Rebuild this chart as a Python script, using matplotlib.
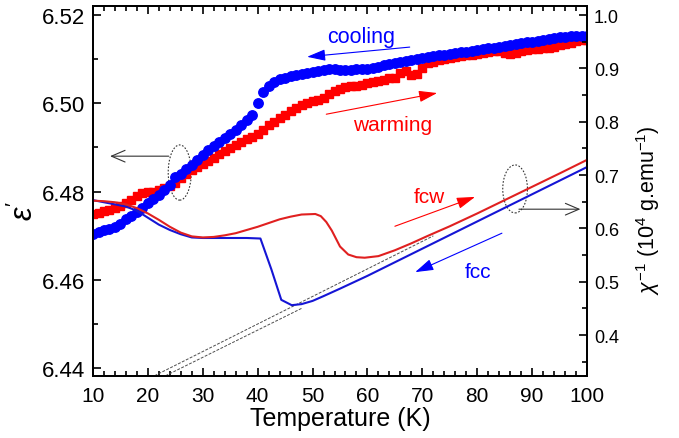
import matplotlib
matplotlib.use("Agg")
import matplotlib.pyplot as plt
from matplotlib.patches import Ellipse
from matplotlib.ticker import MultipleLocator

plt.rcParams['font.family'] = ['Liberation Sans', 'DejaVu Sans']
plt.rcParams['mathtext.fontset'] = 'custom'
plt.rcParams['mathtext.rm'] = 'Liberation Sans'
plt.rcParams['mathtext.it'] = 'Liberation Sans:italic'

# dielectric constant, 1 K steps from 10 to 100 K
T_eps = list(range(10, 101))
eps_cool = [6.4703, 6.4708, 6.4712, 6.4716, 6.4720, 6.4726, 6.4738, 6.4745, 6.4753, 6.4763,
            6.4773, 6.4783, 6.4792, 6.4803, 6.4815, 6.4832, 6.4840, 6.4850, 6.4860, 6.4871,
            6.4882, 6.4893, 6.4903, 6.4912, 6.4921, 6.4930, 6.4940, 6.4950, 6.4961, 6.4973,
            6.5000, 6.5025, 6.5040, 6.5049, 6.5054, 6.5058, 6.5061, 6.5064, 6.5067, 6.5069,
            6.5071, 6.5073, 6.5075, 6.5077, 6.5077, 6.5076, 6.5075, 6.5076, 6.5077, 6.5078,
            6.5078, 6.5080, 6.5083, 6.5086, 6.5089, 6.5092, 6.5094, 6.5096, 6.5098, 6.5100,
            6.5102, 6.5104, 6.5106, 6.5108, 6.5110, 6.5112, 6.5114, 6.5115, 6.5117, 6.5119,
            6.5121, 6.5122, 6.5124, 6.5126, 6.5128, 6.5130, 6.5132, 6.5134, 6.5136, 6.5138,
            6.5139, 6.5141, 6.5143, 6.5145, 6.5147, 6.5149, 6.5150, 6.5151, 6.5152, 6.5152,
            6.5152]
eps_warm = [6.4748, 6.4752, 6.4756, 6.4759, 6.4763, 6.4768, 6.4773, 6.4780, 6.4790, 6.4797,
            6.4798, 6.4800, 6.4804, 6.4808, 6.4812, 6.4820, 6.4830, 6.4840, 6.4848, 6.4855,
            6.4862, 6.4869, 6.4876, 6.4884, 6.4891, 6.4898, 6.4905, 6.4912, 6.4918, 6.4924,
            6.4931, 6.4940, 6.4950, 6.4958, 6.4966, 6.4974, 6.4982, 6.4990, 6.4996, 6.5000,
            6.5004, 6.5007, 6.5012, 6.5020, 6.5028, 6.5033, 6.5036, 6.5038, 6.5040, 6.5042,
            6.5045, 6.5048, 6.5050, 6.5053, 6.5056, 6.5058, 6.5068, 6.5072, 6.5064, 6.5066,
            6.5080, 6.5090, 6.5094, 6.5097, 6.5100, 6.5102, 6.5104, 6.5106, 6.5108, 6.5110,
            6.5112, 6.5114, 6.5116, 6.5118, 6.5119, 6.5113, 6.5112, 6.5113, 6.5118, 6.5121,
            6.5122, 6.5123, 6.5124, 6.5126, 6.5128, 6.5131, 6.5134, 6.5137, 6.5140, 6.5142,
            6.5143]

# inverse susceptibility
T_fcc = [10, 12, 14, 16, 18, 20, 22, 24, 26, 28, 30, 34, 38, 40.5, 42.5, 44.3, 46.2, 48, 50,
         52, 55, 60, 70, 80, 90, 100]
chi_fcc = [0.653, 0.649, 0.645, 0.641, 0.633, 0.620, 0.607, 0.597, 0.589, 0.583, 0.582, 0.582,
           0.582, 0.581, 0.523, 0.466, 0.456, 0.458, 0.464, 0.473, 0.487, 0.511, 0.562, 0.613,
           0.664, 0.715]
T_fcw = [10, 12, 14, 16, 18, 20, 22, 24, 26, 28, 30, 32, 34, 36, 38, 40, 42, 44, 46, 48, 50.5,
         51.5, 52.5, 53.5, 55, 56.5, 58, 59.5, 62, 65, 68, 71, 75, 80, 85, 90, 95, 100]
chi_fcw = [0.652, 0.651, 0.649, 0.645, 0.638, 0.628, 0.616, 0.603, 0.592, 0.585, 0.583, 0.584,
           0.587, 0.591, 0.597, 0.603, 0.610, 0.617, 0.622, 0.626, 0.627, 0.623, 0.612, 0.596,
           0.566, 0.551, 0.546, 0.545, 0.548, 0.559, 0.572, 0.586, 0.604, 0.628, 0.653, 0.678,
           0.703, 0.7285]

# Curie-Weiss extrapolations (end points)
T_fit_w = [20.5, 72.0]
chi_fit_w = [0.320, 0.586]
T_fit_c = [22.5, 48.0]
chi_fit_c = [0.320, 0.450]

fig = plt.figure(figsize=(6.79, 4.39), dpi=100)
ax = fig.add_axes([0.137, 0.141, 0.7275, 0.843])
ax2 = ax.twinx()

ax.plot(T_eps, eps_warm, 's', color='red', ms=6, mec='red', zorder=2)
ax.plot(T_eps, eps_cool, 'o', color='blue', ms=6.8, mec='blue', zorder=3)

ax2.plot(T_fit_w, chi_fit_w, '--', color='0.3', lw=0.7, dashes=(3, 1.5))
ax2.plot(T_fit_c, chi_fit_c, '--', color='0.3', lw=0.7, dashes=(3, 1.5))
ax2.plot(T_fcc, chi_fcc, '-', color='#1515d5', lw=1.5)
ax2.plot(T_fcw, chi_fcw, '-', color='#e02020', lw=1.5)

ax.set_xlim(10, 100)
ax.set_ylim(6.4382, 6.522)
ax2.set_ylim(0.323, 1.017)

ax.xaxis.set_major_locator(MultipleLocator(10))
ax.xaxis.set_minor_locator(MultipleLocator(2))
ax.yaxis.set_major_locator(MultipleLocator(0.02))
ax.yaxis.set_minor_locator(MultipleLocator(0.01))
ax.yaxis.set_major_formatter(matplotlib.ticker.FormatStrFormatter('%.2f'))
ax2.yaxis.set_major_locator(MultipleLocator(0.1))
ax2.yaxis.set_minor_locator(MultipleLocator(0.05))
ax2.yaxis.set_major_formatter(matplotlib.ticker.FormatStrFormatter('%.1f'))

ax.tick_params(which='both', direction='in', top=True, right=False, width=1.2)
ax.tick_params(which='major', length=6)
ax.tick_params(which='minor', length=3.5)
ax.tick_params(axis='y', labelsize=16, pad=6)
ax.tick_params(axis='x', labelsize=15, pad=7)
ax2.tick_params(which='both', direction='in', width=1.2)
ax2.tick_params(which='major', length=6, labelsize=13, pad=5)
ax2.tick_params(which='minor', length=3.5)
for a in (ax, ax2):
    for s in a.spines.values():
        s.set_linewidth(1.3)

ax.set_xlabel('Temperature (K)', fontsize=18, labelpad=1)
ax.set_ylabel(r"$\varepsilon'$", fontsize=22)
ax.yaxis.set_label_coords(-0.108, 0.45)
ax2.set_ylabel(r'$\chi^{-1}$ (10$^4$ g.emu$^{-1}$)', fontsize=15.5)
ax2.yaxis.set_label_coords(1.095, 0.45)

# annotations, epsilon panel
ax.annotate('', xy=(49.0, 6.5105), xytext=(67.7, 6.5127),
            arrowprops=dict(arrowstyle='-|>,head_length=0.8,head_width=0.25',
                            color='blue', lw=0.8, mutation_scale=14, shrinkA=0, shrinkB=0))
ax.text(58.8, 6.5152, 'cooling', color='blue', fontsize=15.5, ha='center', va='center')
ax.annotate('', xy=(72.7, 6.5023), xytext=(52.5, 6.4975),
            arrowprops=dict(arrowstyle='-|>,head_length=0.8,head_width=0.25',
                            color='red', lw=0.8, mutation_scale=14, shrinkA=0, shrinkB=0))
ax.text(64.6, 6.4952, 'warming', color='red', fontsize=15, ha='center', va='center')
ax.add_patch(Ellipse((25.8, 6.4843), 4.2, 0.0125, fill=False, ls=(0, (1.5, 1.5)),
                     lw=0.8, color='0.2'))
ax.annotate('', xy=(13.1, 6.4880), xytext=(23.8, 6.4880),
            arrowprops=dict(arrowstyle='->,head_length=0.7,head_width=0.3',
                            color='0.2', lw=0.8, mutation_scale=14, shrinkA=0, shrinkB=0))

# annotations, susceptibility panel
ax2.annotate('', xy=(79.6, 0.659), xytext=(65.0, 0.604),
             arrowprops=dict(arrowstyle='-|>,head_length=0.8,head_width=0.25',
                             color='red', lw=0.8, mutation_scale=14, shrinkA=0, shrinkB=0))
ax2.text(71.2, 0.660, 'fcw', color='red', fontsize=15, ha='center', va='center')
ax2.annotate('', xy=(68.7, 0.518), xytext=(84.5, 0.591),
             arrowprops=dict(arrowstyle='-|>,head_length=0.8,head_width=0.25',
                             color='blue', lw=0.8, mutation_scale=14, shrinkA=0, shrinkB=0))
ax2.text(80.1, 0.520, 'fcc', color='blue', fontsize=15, ha='center', va='center')
ax2.add_patch(Ellipse((86.9, 0.674), 4.5, 0.09, fill=False, ls=(0, (1.5, 1.5)),
                      lw=0.8, color='0.2'))
ax2.annotate('', xy=(98.8, 0.636), xytext=(87.6, 0.636),
             arrowprops=dict(arrowstyle='->,head_length=0.7,head_width=0.3',
                             color='0.2', lw=0.8, mutation_scale=14, shrinkA=0, shrinkB=0))

fig.savefig('out.png', dpi=100)
